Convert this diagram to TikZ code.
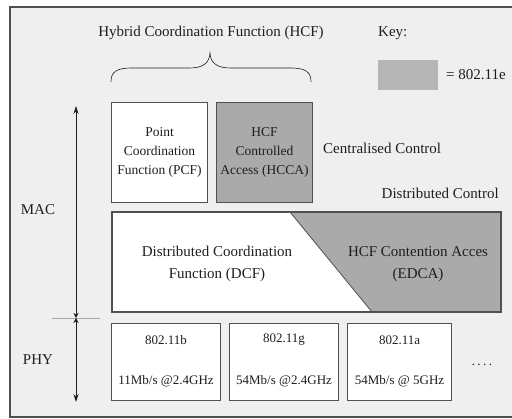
\documentclass[tikz,border=0pt]{standalone}
\usepackage{fontspec}
\setmainfont{Liberation Serif}
\usetikzlibrary{arrows.meta}
\definecolor{bg}{HTML}{EFEFEF}
\definecolor{boxgray}{HTML}{AAAAAA}
\definecolor{keygray}{HTML}{B6B6B6}
\definecolor{edge}{HTML}{505050}
\definecolor{ink}{HTML}{1E1E1E}
\tikzset{bigtip/.tip={Stealth[length=8pt,width=5pt]},
  smalltip/.tip={Stealth[length=5pt,width=5pt]}}
\begin{document}
\begin{tikzpicture}[x=1pt,y=-1pt,
  txt/.style={text=ink, align=center, inner sep=0pt, font=\fontsize{13.5}{19}\selectfont},
  bigtxt/.style={txt, font=\fontsize{15}{22}\selectfont},
  phytxt/.style={txt, font=\fontsize{13}{15}\selectfont},
  box/.style={draw=edge, line width=1.1pt, fill=white, inner sep=0pt, anchor=north west},
  gbox/.style={box, fill=boxgray}]
\useasboundingbox (0,0) rectangle (512,419);
\fill[white] (0,0) rectangle (512,419);
\fill[bg] (10,7) rectangle (512,417);
\draw[edge, line width=1.6pt] (512,7) -- (10,7) -- (10,417) -- (512,417);

% title and brace
\node[bigtxt] (hcf) at (211,33) {Hybrid Coordination Function (HCF)};
\draw[ink, line width=0.6pt] (111,82) .. controls (111,72) and (116,68) .. (132,68)
  -- (190,68) .. controls (204,68) and (210,62) .. (210,52)
  .. controls (210,62) and (216,68) .. (230,68) -- (290,68)
  .. controls (306,68) and (311,72) .. (311,82);

% key
\node[bigtxt, anchor=west] (key) at (378,33) {Key:};
\fill[keygray] (378,60) rectangle (438,90);
\coordinate (keybox) at (438,75);
\node[bigtxt, anchor=west] (keyval) at (446,75) {= 802.11e};

% centralised
\node[box, minimum width=96pt, minimum height=100pt] (pcf) at (111,102) {};
\node[txt] (pcft) at (pcf.center) {Point\\Coordination\\Function (PCF)};
\node[gbox, minimum width=96pt, minimum height=100pt] (hcca) at (216,102) {};
\node[txt] (hccat) at (hcca.center) {HCF\\Controlled\\Access (HCCA)};
\node[bigtxt, anchor=west] (cent) at (323,148) {Centralised Control};
\node[bigtxt, anchor=east] (dist) at (499,193) {Distributed Control};

% distributed box
\coordinate (d1) at (112,212);
\coordinate (d2) at (501,312);
\fill[white] (d1) rectangle (d2);
\fill[boxgray] (290,212) -- (501,212) -- (501,312) -- (372,312) -- cycle;
\draw[edge, line width=0.8pt] (290,212) -- (372,312);
\draw[edge, line width=1.1pt] (d1) rectangle (d2);
\node[bigtxt] (dcf) at (217,264) {Distributed Coordination\\Function (DCF)};
\node[bigtxt] (edca) at (418,264) {HCF Contention Acces\\(EDCA)};

% PHY boxes
\node[box, minimum width=109pt, minimum height=77pt] (b) at (111,323) {};
\node[phytxt] (bt) at ([yshift=-17pt]b.north) {802.11b};
\node[phytxt] (br) at ([yshift=20pt]b.south) {11Mb/s @2.4GHz};
\node[box, minimum width=109pt, minimum height=77pt] (g) at (229,323) {};
\node[phytxt] (gt) at ([yshift=-17pt]g.north) {802.11g};
\node[phytxt] (gr) at ([yshift=20pt]g.south) {54Mb/s @2.4GHz};
\node[box, minimum width=104pt, minimum height=77pt] (a) at (347,323) {};
\node[phytxt] (at) at ([yshift=-17pt]a.north) {802.11a};
\node[phytxt] (ar) at ([yshift=20pt]a.south) {54Mb/s @ 5GHz};
\node[phytxt] (dots) at (482,365) {.\hspace{2.5pt}.\hspace{2.5pt}.\hspace{2.5pt}.};

% layer arrows
\node[bigtxt] (mac) at (38,210) {MAC};
\node[bigtxt] (phy) at (38,360) {PHY};
\coordinate (mactop) at (76,106);
\coordinate (split) at (76,318);
\coordinate (phybot) at (76,402);
\coordinate (sl) at (52,318);
\coordinate (sr) at (100,318);
\draw[gray!70, line width=0.6pt] (sl) -- (sr);
\draw[ink, line width=0.6pt, {bigtip}-{smalltip}] (mactop) -- (split);
\draw[ink, line width=0.6pt, {smalltip}-{bigtip}] (split) -- (phybot);
\end{tikzpicture}
\end{document}
